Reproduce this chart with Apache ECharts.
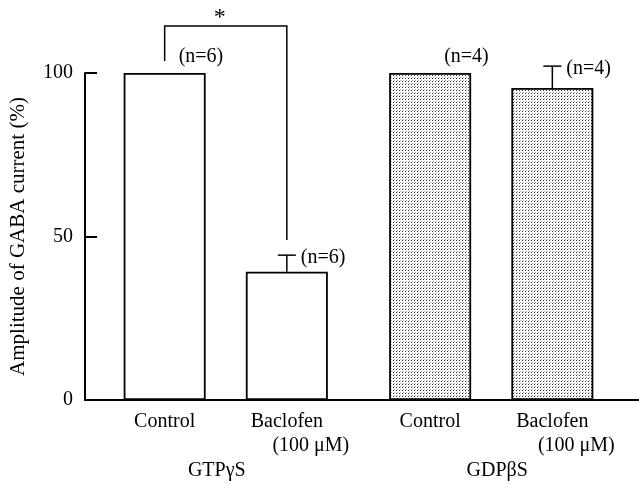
<!DOCTYPE html>
<html><head><meta charset="utf-8">
<script src="https://cdn.jsdelivr.net/npm/echarts@6/dist/echarts.min.js"></script>
<style>html,body{margin:0;padding:0;background:#fff}#c{width:639px;height:484px}</style>
</head><body><div id="c"></div>
<script>
// ---- data ----
const groups = ['GTPγS', 'GDPβS'];
const treatments = ['Control', 'Baclofen'];
const concLabel = '(100 μM)';
const controlMeans = [100, 100];
const baclofenMeans = [39.2, 95.4];
const controlErrTop = [null, null];
const baclofenErrTop = [44.3, 102.1];
const controlN = [6, 4];
const baclofenN = [6, 4];
const yTicks = [0, 50, 100];
const sigFromLeft = 103.7;   // left leg bottom (value)
const sigFromRight = 48.9;   // right leg bottom (value)
const sigTop = 114.4;        // bracket top (value)
const sigMark = '*';

// ---- styles ----
const FONT = "'Liberation Serif','Times New Roman',serif";
const FS = 20;
const BAR_W = 82;
const BAR_GAP = 0.49;
const BAR_SPACING = BAR_W * (1 + BAR_GAP);

const pc = document.createElement('canvas');
pc.width = 3; pc.height = 3;
const g = pc.getContext('2d');
g.fillStyle = '#fff'; g.fillRect(0, 0, 3, 3);
g.fillStyle = '#333'; g.fillRect(0, 0, 1, 1);
g.fillStyle = '#aaa'; g.fillRect(1, 2, 1, 1);
const dotted = { image: pc, repeat: 'repeat' };
const fills = ['#ffffff', dotted];

const chart = echarts.init(document.getElementById('c'), null, { renderer: 'canvas' });

function barData(means) {
  return means.map((v, i) => ({ value: v, itemStyle: { color: fills[i] } }));
}

const errData = [];
groups.forEach((gname, i) => {
  errData.push([i, 0, controlMeans[i], controlErrTop[i] == null ? controlMeans[i] : controlErrTop[i], controlN[i]]);
  errData.push([i, 1, baclofenMeans[i], baclofenErrTop[i] == null ? baclofenMeans[i] : baclofenErrTop[i], baclofenN[i]]);
});

const option = {
  animation: false,
  backgroundColor: '#fff',
  grid: [
    { left: 84, right: 0, top: 73, bottom: 84 },
    { left: 93, right: 15, top: 73, bottom: 84 }
  ],
  xAxis: [
    { gridIndex: 0, type: 'value', min: 0, max: 1,
      axisLine: { show: true, lineStyle: { color: '#000', width: 2 } },
      axisTick: { show: false }, axisLabel: { show: false }, splitLine: { show: false } },
    { gridIndex: 1, type: 'category', data: groups,
      axisLine: { show: false }, axisTick: { show: false }, splitLine: { show: false },
      axisLabel: {
        margin: 61, fontFamily: FONT, fontSize: FS, color: '#000',
        formatter: (v, i) => i === 0 ? '{l|' + v + '}' : '{r|' + v + '}',
        rich: {
          l: { fontFamily: FONT, fontSize: FS, color: '#000', padding: [0, 18, 0, 0] },
          r: { fontFamily: FONT, fontSize: FS, color: '#000', padding: [0, 0, 0, 12] }
        }
      } }
  ],
  yAxis: [
    { gridIndex: 0, type: 'value', min: yTicks[0], max: yTicks[yTicks.length - 1], interval: yTicks[1] - yTicks[0],
      name: 'Amplitude of GABA current (%)', nameLocation: 'middle', nameGap: 56,
      nameTextStyle: { fontFamily: FONT, fontSize: 21, color: '#000' },
      axisLine: { show: true, lineStyle: { color: '#000', width: 2 } },
      axisTick: { show: true, inside: true, length: 12, lineStyle: { color: '#000', width: 2 } },
      axisLabel: { margin: 12, fontFamily: FONT, fontSize: FS, color: '#000' },
      splitLine: { show: false } },
    { gridIndex: 1, type: 'value', min: yTicks[0], max: yTicks[yTicks.length - 1], show: false, splitLine: { show: false } }
  ],
  series: [
    { type: 'bar', name: treatments[0], xAxisIndex: 1, yAxisIndex: 1,
      barWidth: BAR_W, barGap: (BAR_GAP * 100) + '%',
      data: barData(controlMeans),
      itemStyle: { borderColor: '#000', borderWidth: 1.8 },
      label: { show: true, position: 'bottom', distance: 10, formatter: treatments[0],
        fontFamily: FONT, fontSize: FS, color: '#000', lineHeight: 24 } },
    { type: 'bar', name: treatments[1], xAxisIndex: 1, yAxisIndex: 1,
      barWidth: BAR_W,
      data: barData(baclofenMeans),
      itemStyle: { borderColor: '#000', borderWidth: 1.8 },
      label: { show: true, position: 'bottom', distance: 10,
        formatter: '{a|' + treatments[1] + '}\n{b|' + concLabel + '}',
        rich: {
          a: { fontFamily: FONT, fontSize: FS, color: '#000', lineHeight: 24 },
          b: { fontFamily: FONT, fontSize: FS, color: '#000', lineHeight: 24, padding: [0, 0, 0, 48] }
        } } },
    { type: 'custom', xAxisIndex: 1, yAxisIndex: 1, clip: false, z: 5,
      data: errData,
      renderItem: function (params, api) {
        const cat = api.value(0), which = api.value(1);
        const mean = api.value(2), top = api.value(3), n = api.value(4);
        const c = api.coord([cat, mean]);
        const x = c[0] + (which === 0 ? -1 : 1) * BAR_SPACING / 2;
        const children = [];
        let textY = c[1] - 16;
        if (top > mean) {
          const t = api.coord([cat, top]);
          children.push({ type: 'line', shape: { x1: x, y1: c[1], x2: x, y2: t[1] }, style: { stroke: '#000', lineWidth: 1.5 } });
          children.push({ type: 'line', shape: { x1: x - 9, y1: t[1], x2: x + 9, y2: t[1] }, style: { stroke: '#000', lineWidth: 1.5 } });
          textY = t[1] + 3;
        }
        children.push({ type: 'text', x: x + 14, y: textY,
          style: { text: '(n=' + n + ')', font: FS + 'px ' + FONT, fill: '#000', textAlign: 'left', textVerticalAlign: 'middle' } });
        return { type: 'group', children: children };
      } },
    { type: 'custom', xAxisIndex: 1, yAxisIndex: 1, clip: false, z: 5,
      data: [[0, sigFromLeft, sigFromRight, sigTop]],
      renderItem: function (params, api) {
        const cat = api.value(0);
        const cl = api.coord([cat, api.value(1)]);
        const cr = api.coord([cat, api.value(2)]);
        const ct = api.coord([cat, api.value(3)]);
        const x0 = cl[0] - BAR_SPACING / 2, x1 = cl[0] + BAR_SPACING / 2;
        return { type: 'group', children: [
          { type: 'polyline', shape: { points: [[x0, cl[1]], [x0, ct[1]], [x1, ct[1]], [x1, cr[1]]] },
            style: { stroke: '#000', lineWidth: 1.5, fill: null } },
          { type: 'text', x: (x0 + x1) / 2 - 6, y: ct[1] - 8,
            style: { text: sigMark, font: '24px ' + FONT, fill: '#000', textAlign: 'center', textVerticalAlign: 'middle' } }
        ] };
      } }
  ]
};
chart.setOption(option);
</script>
</body></html>
